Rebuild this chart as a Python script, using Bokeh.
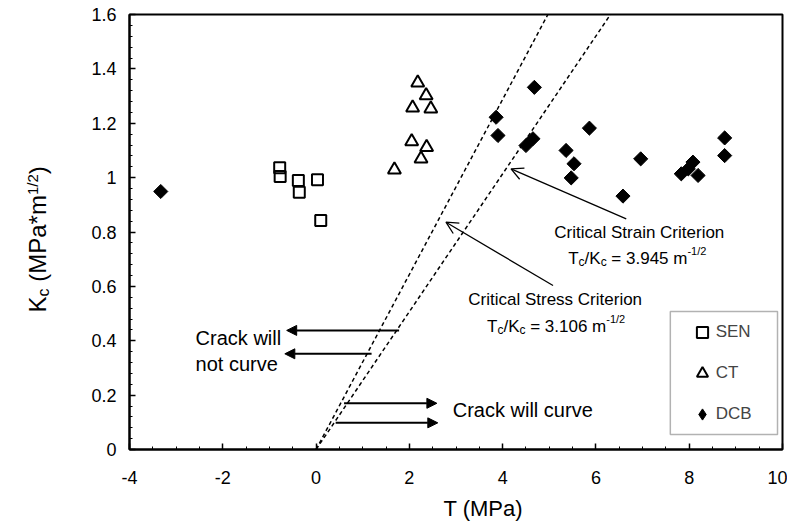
import math
from bokeh.plotting import figure
from bokeh.layouts import row
from bokeh.core.properties import value
from bokeh.models import (FixedTicker, Label, Arrow, NormalHead, OpenHead, Title,
                          Legend, LegendItem, BoxAnnotation, Range1d)
from bokeh.embed import file_html
from bokeh.resources import INLINE

# ---------------- data ----------------
sen_T = [-0.78, -0.77, -0.38, -0.36, 0.03, 0.10]
sen_K = [1.036, 1.004, 0.989, 0.946, 0.992, 0.842]

ct_T = [2.18, 2.36, 2.07, 2.46, 2.05, 2.37, 2.25, 1.68]
ct_K = [1.349, 1.302, 1.257, 1.253, 1.133, 1.112, 1.069, 1.029]

dcb_T = [-3.33, 3.86, 3.90, 4.50, 4.65, 4.68, 5.36, 5.53, 5.47, 5.86,
         6.58, 6.96, 7.83, 7.98, 8.08, 8.19, 8.76, 8.76]
dcb_K = [0.949, 1.222, 1.155, 1.118, 1.143, 1.332, 1.100, 1.051, 0.999, 1.182,
         0.932, 1.069, 1.014, 1.032, 1.057, 1.008, 1.146, 1.081]

criteria_ratio = [3.106, 3.945]     # Tc/Kc  (m^-1/2)
K_max = 1.6

x_ticks = [-4, -2, 0, 2, 4, 6, 8, 10]
x_tick_labels = ["-4", "-2", "0", "2", "4", "6", "8", "10"]
y_ticks = [0, 0.2, 0.4, 0.6, 0.8, 1, 1.2, 1.4, 1.6]
y_tick_labels = ["0", "0.2", "0.4", "0.6", "0.8", "1", "1.2", "1.4", "1.6"]
legend_labels = ["SEN", "CT", "DCB"]

FONT = "Liberation Sans"
TOTAL_W, TOTAL_H = 787, 530
BORDER_TOP, BORDER_BOTTOM = 14, 81
YT_W = 56  # width of the strip that carries the y-axis title
TEXT_LIFT = 7  # px

yr = Range1d(0, K_max)
p = figure(width=TOTAL_W - YT_W, height=TOTAL_H, x_range=Range1d(-4, 10), y_range=yr,
           output_backend="svg", toolbar_location=None,
           min_border_left=129 - YT_W, min_border_right=5,
           min_border_top=BORDER_TOP, min_border_bottom=BORDER_BOTTOM)
p.xgrid.visible = False
p.ygrid.visible = False
p.outline_line_color = "black"
p.outline_line_width = 2
p.outline_line_alpha = 1
p.background_fill_color = "white"
p.border_fill_color = "white"

p.xaxis.ticker = FixedTicker(ticks=x_ticks, minor_ticks=[-4 + 0.5 * i for i in range(29)])
p.yaxis.ticker = FixedTicker(ticks=y_ticks, minor_ticks=[0.04 * i for i in range(41)])
p.xaxis.major_label_overrides = {v: s for v, s in zip(x_ticks, x_tick_labels)}
p.yaxis.major_label_overrides = {v: s for v, s in zip(y_ticks, y_tick_labels)}
for ax in (p.xaxis, p.yaxis):
    ax.axis_line_width = 2
    ax.axis_line_color = "black"
    ax.major_tick_in = 6
    ax.major_tick_out = 0
    ax.minor_tick_in = 3
    ax.minor_tick_out = 0
    ax.major_tick_line_width = 1.5
    ax.minor_tick_line_width = 1
    ax.major_tick_line_color = "black"
    ax.minor_tick_line_color = "black"
    ax.major_label_text_font = FONT
    ax.major_label_text_font_size = "18px"
    ax.major_label_text_color = "black"
p.xaxis.major_label_standoff = 21
p.yaxis.major_label_standoff = 13

# criterion lines  T = ratio * K
for r in criteria_ratio:
    p.line(x=[0, r * K_max], y=[0, K_max], line_dash="4 3", line_width=1.5, color="black")

r_sen = p.scatter(sen_T, sen_K, marker="square", size=11, line_width=2,
                  line_color="black", fill_color=None)
r_ct = p.scatter(ct_T, ct_K, marker="triangle", size=13, line_width=2,
                 line_color="black", fill_color=None)
r_dcb = p.scatter(dcb_T, dcb_K, marker="square", angle=math.pi / 4, size=10,
                  color="black")
# hidden twin used only for the legend swatch (legend swatches are not rotated)
r_dcb_key = p.scatter(dcb_T, dcb_K, marker="diamond", size=10, color="black", visible=False)

# legend box + legend
p.add_layout(BoxAnnotation(left=7.595, right=9.893, top=0.5075, bottom=0.0552,
                           fill_color="white", fill_alpha=1,
                           line_color="black", line_width=1.5))
legend = Legend(items=[LegendItem(label=legend_labels[0], renderers=[r_sen]),
                       LegendItem(label=legend_labels[1], renderers=[r_ct]),
                       LegendItem(label=legend_labels[2], renderers=[r_dcb_key])],
                location=(558.7, 21), padding=0, spacing=13, margin=0,
                glyph_width=28, glyph_height=28, label_height=28, label_standoff=-3,
                border_line_alpha=0, background_fill_alpha=0,
                inactive_fill_alpha=0, click_policy="none",
                label_text_font=FONT, label_text_font_size="17px")
p.add_layout(legend)

# x-axis title
p.add_layout(Title(text="T (MPa)", align="left", offset=314, text_font=FONT,
                   text_font_size="22px", text_font_style="normal", text_color="black",
                   standoff=15), "below")

# arrows
def arrow(x0, y0, x1, y1, head, lw):
    p.add_layout(Arrow(end=head, x_start=x0, y_start=y0, x_end=x1, y_end=y1,
                       line_width=lw, line_color="black"))

def nh():
    return NormalHead(size=10, fill_color="black", line_color="black")

arrow(1.78, 0.438, -0.63, 0.438, nh(), 2)
arrow(1.19, 0.352, -0.67, 0.352, nh(), 2)
arrow(0.60, 0.170, 2.59, 0.170, nh(), 2)
arrow(0.42, 0.098, 2.61, 0.098, nh(), 2)
arrow(6.65, 0.848, 4.18, 1.032, OpenHead(size=12, line_width=1.3, line_color="black"), 1.3)
arrow(5.08, 0.603, 2.785, 0.836, OpenHead(size=12, line_width=1.3, line_color="black"), 1.3)

# texts
W = {' ': 278, '(': 333, ')': 333, '*': 389, '/': 278, '.': 278, '=': 584, '-': 333,
     'K': 667, 'M': 833, 'P': 667, 'T': 611, 'a': 556, 'c': 500, 'm': 833}


def tw(s, px):
    return sum(W.get(ch, 556) for ch in s) * px / 1000.0


def label(x, y, text, size, align="left", xo=0.0, yo=0.0):
    p.add_layout(Label(x=x, y=y, x_offset=xo, y_offset=yo + TEXT_LIFT, text=text,
                       text_font=FONT, text_font_size=f"{size}px",
                       text_baseline="alphabetic", text_align=align,
                       text_color="black"))


def rich(x, y, parts, align="left"):
    # parts: (text, font px, baseline shift px, gap before px)
    total = sum(tw(t, s) + g for t, s, _, g in parts)
    pos = -total / 2 if align == "center" else 0.0
    for t, s, shift, g in parts:
        pos += g
        label(x, y, t, s, xo=pos, yo=shift)
        pos += tw(t, s)


label(-2.583, 0.386, "Crack will", 20)
label(-2.583, 0.288, "not curve", 20)
label(2.93, 0.119, "Crack will curve", 20)

label(6.93, 0.771, "Critical Strain Criterion", 17, align="center")
rich(6.887, 0.677, [("T", 17, 0, 0), ("c", 12, -4, 0), ("/K", 17, 0, 0), ("c", 12, -4, 0),
                    ("= 3.945 m", 17, 0, 4.7), ("-1/2", 11, 7, 0)], align="center")
label(5.126, 0.526, "Critical Stress Criterion", 17, align="center")
rich(5.147, 0.428, [("T", 17, 0, 0), ("c", 12, -4, 0), ("/K", 17, 0, 0), ("c", 12, -4, 0),
                    ("= 3.106 m", 17, 0, 4.7), ("-1/2", 11, 7, 0)], align="center")

# ---------------- y-axis title strip (shares p's vertical frame) ----------------
fy = figure(width=YT_W, height=TOTAL_H, x_range=Range1d(0, YT_W), y_range=yr,
            output_backend="svg", toolbar_location=None, title=None,
            x_axis_location=None, y_axis_location=None,
            min_border_left=0, min_border_right=0,
            min_border_top=BORDER_TOP, min_border_bottom=BORDER_BOTTOM)
fy.xgrid.visible = False
fy.ygrid.visible = False
fy.outline_line_color = None
fy.background_fill_color = "white"
fy.border_fill_color = "white"

K_PER_PX = K_max / (TOTAL_H - BORDER_TOP - BORDER_BOTTOM)
mid_x = 36.7
pos = 0.504   # K value where the title starts (bottom)
for t, s, shift, g in [("K", 24, 0, 0), ("c", 16, -6, 0), ("(MPa*m", 24, 0, 6.7),
                       ("1/2", 15, 5, 0), (")", 24, 0, 0)]:
    pos += g * K_PER_PX
    fy.text(x=[mid_x - shift], y=[pos], text=[t], angle=math.pi / 2,
            text_font=value(FONT), text_font_size=f"{s}px",
            text_baseline="middle", text_align="left", text_color="black")
    pos += tw(t, s) * K_PER_PX

layout = row(fy, p, spacing=0)
open("out.html", "w").write(file_html(layout, INLINE))
